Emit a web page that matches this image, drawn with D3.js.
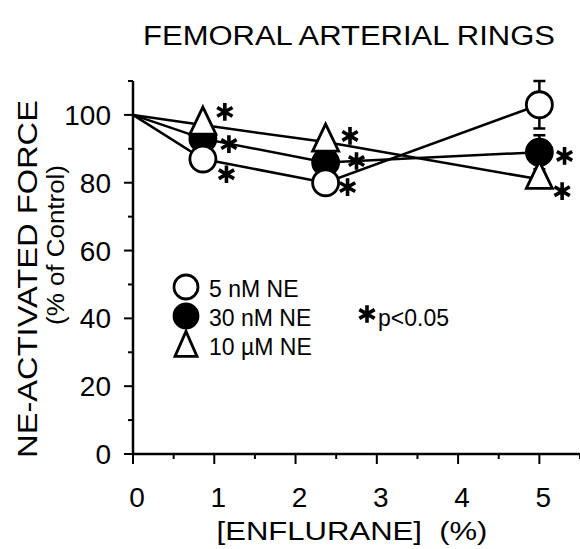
<!DOCTYPE html>
<html>
<head>
<meta charset="utf-8">
<script src="https://cdn.jsdelivr.net/npm/d3@7"></script>
<style>
  body { margin: 0; background: #fff; }
  text { font-family: "Liberation Sans", Arial, Helvetica, sans-serif; fill: #000; }
</style>
</head>
<body>
<div id="chart"></div>
<script>
// enflurane concentration (%)
let doses = [0, 0.86, 2.37, 5];

let ne5 = [100, 87, 80, 103];
let ne30 = [100, 93, 86, 89];
let ne10 = [100, 97, 92, 81];

// SEM shown only where it sticks out of the marker
let ne5Err = [0, 0, 0, 7];
let ne30Err = [0, 0, 0, 5];
let ne10Err = [0, 0, 0, 0];

// p<0.05 stars: [x, y] in data units
let ne5Stars = [[1.15, 82.5], [2.64, 78.7]];
let ne30Stars = [[1.18, 91.4], [2.75, 86.4], [5.31, 87.9]];
let ne10Stars = [[1.13, 100.9], [2.67, 93.8], [5.28, 77.5]];

let legendLabels = ["5 nM NE", "30 nM NE", "10 \u00b5M NE"];
let xTicks = [0, 1, 2, 3, 4, 5];
let yTicks = [0, 20, 40, 60, 80, 100];

let width = 580, height = 549;

let svg = d3.select("#chart")
    .append("svg")
    .attr("width", width)
    .attr("height", height);

let x = d3.scaleLinear().domain([0, 5.5]).range([133, 580]);
let y = d3.scaleLinear().domain([0, 110]).range([454, 81]);

// stretch a text along its own direction to a given length
function fitText(sel, cx, cy, rot, len) {
    let w = sel.node().getComputedTextLength();
    sel.attr("transform", `translate(${cx},${cy}) rotate(${rot}) scale(${len / w},1)`);
}

// triangle marker, centred on its centroid
function triPath(w, h) {
    let p = d3.path();
    p.moveTo(0, -h * 2 / 3);
    p.lineTo(w / 2, h / 3);
    p.lineTo(-w / 2, h / 3);
    p.closePath();
    return p.toString();
}

// axes
let yAxis = svg.append("g").attr("transform", `translate(${x(0)},0)`);
yAxis.append("line").attr("y1", y(0)).attr("y2", y(110)).attr("stroke", "#000").attr("stroke-width", 2.5);
yAxis.selectAll(".minor").data(d3.range(10, 111, 20)).enter()
    .append("line").attr("x1", -5).attr("x2", 0)
    .attr("y1", d => y(d)).attr("y2", d => y(d))
    .attr("stroke", "#000").attr("stroke-width", 2);
yAxis.selectAll(".major").data(yTicks).enter()
    .append("line").attr("x1", -9).attr("x2", 0)
    .attr("y1", d => y(d)).attr("y2", d => y(d))
    .attr("stroke", "#000").attr("stroke-width", 2);
yAxis.selectAll(".lbl").data(yTicks).enter()
    .append("text")
    .attr("x", -22).attr("y", d => y(d) + 10)
    .attr("text-anchor", "end")
    .style("font-size", "28px")
    .text(d => d);

let xAxis = svg.append("g").attr("transform", `translate(0,${y(0)})`);
xAxis.append("line").attr("x1", x(0)).attr("x2", x(5.5)).attr("stroke", "#000").attr("stroke-width", 2.5);
xAxis.selectAll(".minor").data(d3.range(0.5, 5.6, 1)).enter()
    .append("line").attr("y1", 0).attr("y2", 5)
    .attr("x1", d => x(d)).attr("x2", d => x(d))
    .attr("stroke", "#000").attr("stroke-width", 2);
xAxis.selectAll(".major").data(xTicks).enter()
    .append("line").attr("y1", 0).attr("y2", 10)
    .attr("x1", d => x(d)).attr("x2", d => x(d))
    .attr("stroke", "#000").attr("stroke-width", 2);
xAxis.selectAll(".lbl").data(xTicks).enter()
    .append("text")
    .attr("x", d => x(d) + 4).attr("y", 53)
    .attr("text-anchor", "middle")
    .style("font-size", "28px")
    .text(d => d);

// titles
let title = svg.append("text")
    .attr("text-anchor", "middle")
    .style("font-size", "27px")
    .text("FEMORAL ARTERIAL RINGS");
fitText(title, 349, 45, 0, 412);

let xTitle = svg.append("text")
    .attr("text-anchor", "middle")
    .style("font-size", "25px")
    .style("white-space", "pre")
    .text("[ENFLURANE]  (%)");
fitText(xTitle, 352, 540, 0, 271);

let yTitle = svg.append("text")
    .attr("text-anchor", "middle")
    .style("font-size", "28px")
    .text("NE-ACTIVATED FORCE");
fitText(yTitle, 37, 279, -90, 358);

let ySub = svg.append("text")
    .attr("text-anchor", "middle")
    .style("font-size", "23px")
    .text("(% of Control)");
fitText(ySub, 64, 245, -90, 160);

// series
let series = [
    { vals: ne30, err: ne30Err, stars: ne30Stars, shape: "circle", fill: "#000" },
    { vals: ne5, err: ne5Err, stars: ne5Stars, shape: "circle", fill: "#fff" },
    { vals: ne10, err: ne10Err, stars: ne10Stars, shape: "triangle", fill: "#fff" }
];

let line = d3.line().x((d, i) => x(doses[i])).y(d => y(d));

series.forEach(function(s) {
    svg.append("path")
        .attr("d", line(s.vals))
        .attr("fill", "none")
        .attr("stroke", "#000")
        .attr("stroke-width", 2.5);
});

let circleSym = d3.symbol().type(d3.symbolCircle).size(Math.PI * 13 * 13)();
let triSym = triPath(26, 27);
let starSym = d3.symbol().type(d3.symbolAsterisk).size(220)();

series.forEach(function(s) {
    let g = svg.append("g");
    s.vals.forEach(function(v, i) {
        if (s.err[i] > 0) {
            g.append("line")
                .attr("x1", x(doses[i])).attr("x2", x(doses[i]))
                .attr("y1", y(v - s.err[i])).attr("y2", y(v + s.err[i]))
                .attr("stroke", "#000").attr("stroke-width", 2.5);
            [v - s.err[i], v + s.err[i]].forEach(function(e) {
                g.append("line")
                    .attr("x1", x(doses[i]) - 6).attr("x2", x(doses[i]) + 6)
                    .attr("y1", y(e)).attr("y2", y(e))
                    .attr("stroke", "#000").attr("stroke-width", 2.5);
            });
        }
    });
    g.selectAll("path.pt").data(s.vals.slice(1)).enter()
        .append("path")
        .attr("d", s.shape === "circle" ? circleSym : triSym)
        .attr("transform", (d, i) => `translate(${x(doses[i + 1])},${y(d)})`)
        .attr("fill", s.fill)
        .attr("stroke", "#000")
        .attr("stroke-width", 2.8);
});

series.forEach(function(s) {
    svg.selectAll(null).data(s.stars).enter()
        .append("path")
        .attr("d", starSym)
        .attr("transform", d => `translate(${x(d[0])},${y(d[1])})`)
        .attr("fill", "none")
        .attr("stroke", "#000")
        .attr("stroke-width", 3.6);
});

// legend
let legend = svg.append("g").attr("transform", "translate(186,287)");
let legendShapes = [
    { shape: "circle", fill: "#fff" },
    { shape: "circle", fill: "#000" },
    { shape: "triangle", fill: "#fff" }
];
legend.selectAll(".sym").data(legendShapes).enter()
    .append("path")
    .attr("d", d => d.shape === "circle" ? d3.symbol().type(d3.symbolCircle).size(Math.PI * 12 * 12)() : triPath(22, 25))
    .attr("transform", (d, i) => `translate(0,${i * 29 + (d.shape === "triangle" ? 3 : 0)})`)
    .attr("fill", d => d.fill)
    .attr("stroke", "#000")
    .attr("stroke-width", 2.8);
legend.selectAll(".lt").data(legendLabels).enter()
    .append("text")
    .attr("x", 23).attr("y", (d, i) => i * 29 + 10)
    .style("font-size", "23px")
    .text(d => d);

svg.append("path")
    .attr("d", starSym)
    .attr("transform", "translate(367,314)")
    .attr("fill", "none").attr("stroke", "#000").attr("stroke-width", 3.6);
svg.append("text")
    .attr("x", 378).attr("y", 326)
    .style("font-size", "23px")
    .text("p<0.05");
</script>
</body>
</html>
